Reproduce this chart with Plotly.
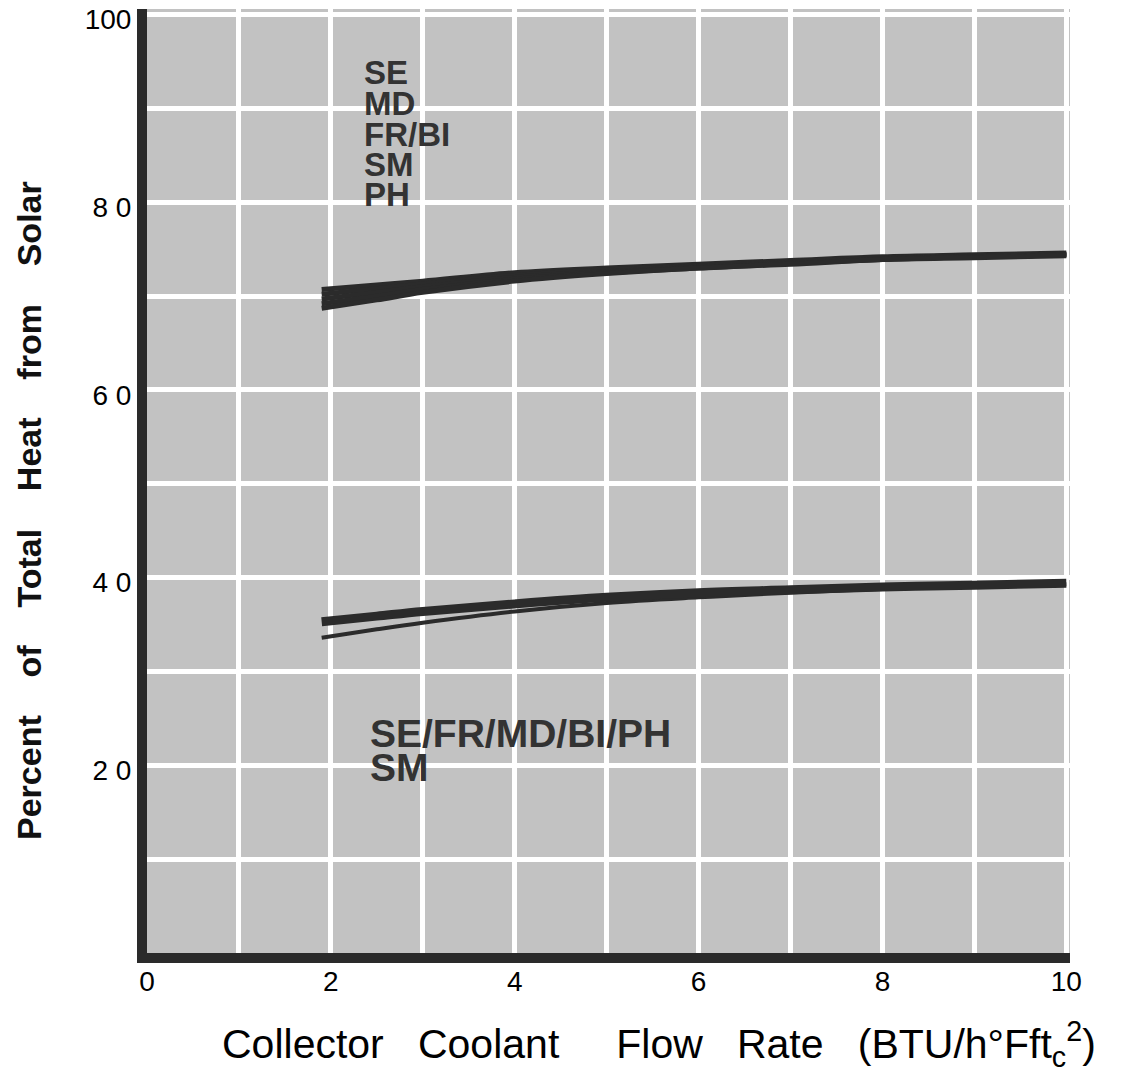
import plotly.graph_objects as go

# ---- data ----
flow_rate = [1.9, 2.5, 3, 4, 5, 6, 7, 8, 9, 10]

upper_series = {
    "SE":    [70.7, 71.2, 71.6, 72.5, 73.0, 73.4, 73.8, 74.2, 74.4, 74.6],
    "MD":    [70.2, 70.8, 71.3, 72.2, 72.8, 73.2, 73.7, 74.1, 74.3, 74.5],
    "FR/BI": [69.7, 70.4, 71.0, 72.0, 72.6, 73.1, 73.6, 74.0, 74.2, 74.4],
    "SM":    [69.2, 70.0, 70.7, 71.8, 72.5, 73.0, 73.5, 73.9, 74.2, 74.4],
    "PH":    [68.7, 69.6, 70.4, 71.6, 72.4, 73.0, 73.4, 73.9, 74.1, 74.3],
}
lower_combined = [35.3, 35.9, 36.4, 37.2, 37.9, 38.4, 38.7, 39.0, 39.2, 39.4]   # SE/FR/MD/BI/PH
lower_sm = [33.6, 34.5, 35.2, 36.4, 37.3, 37.9, 38.4, 38.8, 39.1, 39.3]         # SM

x_tickvals = [0, 2, 4, 6, 8, 10]
x_ticktext = ["0", "2", "4", "6", "8", "10"]
x_minorvals = [1, 3, 5, 7, 9]
y_tickvals = [20, 40, 60, 80, 100]
y_ticktext = ["2 0", "4 0", "6 0", "8 0", "100"]
y_minorvals = [10, 30, 50, 70, 90]

upper_labels = ["SE", "MD", "FR/BI", "SM", "PH"]
upper_label_y = [93.8, 90.5, 87.2, 84.0, 80.8]
lower_labels = ["SE/FR/MD/BI/PH", "SM"]
lower_label_y = [23.4, 19.8]

LINE = "#2b2b2b"
TEXT = "#333333"
FONT = "Liberation Sans, Arial, sans-serif"

fig = go.Figure()
for name, vals in upper_series.items():
    fig.add_trace(go.Scatter(x=flow_rate, y=vals, mode="lines", name=name,
                             line=dict(color=LINE, width=5, shape="spline"),
                             showlegend=False, hoverinfo="skip"))
fig.add_trace(go.Scatter(x=flow_rate, y=lower_sm, mode="lines", name="SM",
                         line=dict(color=LINE, width=4, shape="spline"),
                         showlegend=False))
fig.add_trace(go.Scatter(x=flow_rate, y=lower_combined, mode="lines",
                         name="SE/FR/MD/BI/PH",
                         line=dict(color=LINE, width=9, shape="spline"),
                         showlegend=False))

annotations = []
for t, yy in zip(upper_labels, upper_label_y):
    annotations.append(dict(x=2.34, y=yy, xref="x", yref="y", text=t, showarrow=False,
                            xanchor="left", yanchor="middle",
                            font=dict(family=FONT, size=33, color=TEXT, weight="bold")))
for t, yy in zip(lower_labels, lower_label_y):
    annotations.append(dict(x=2.40, y=yy, xref="x", yref="y", text=t, showarrow=False,
                            xanchor="left", yanchor="middle",
                            font=dict(family=FONT, size=39, color=TEXT, weight="bold")))

nb = "\u00a0"
ytitle = (nb * 4).join(["Percent", "of", "Total", "Heat", "from", "Solar"])
annotations.append(dict(x=(29 - 147) / 923, y=(953 - 511) / 944, xref="paper", yref="paper",
                        text=ytitle, textangle=-90, showarrow=False,
                        xanchor="center", yanchor="middle",
                        font=dict(family=FONT, size=34, color="#111111", weight="bold")))
xtitle = ("Collector" + nb * 3 + "Coolant" + nb * 5 + "Flow" + nb * 3 + "Rate" + nb * 3 +
          "(BTU/h°Fft<sub>c</sub><sup>2</sup>)")
annotations.append(dict(x=(220 - 147) / 923, y=(953 - 1044) / 944, xref="paper", yref="paper",
                        text=xtitle, showarrow=False, xanchor="left", yanchor="middle",
                        font=dict(family=FONT, size=41, color="#000000")))

grid = dict(showgrid=True, gridcolor="white", gridwidth=5, ticks="")
fig.update_layout(
    width=1125, height=1067,
    margin=dict(l=147, r=55, t=9, b=114, autoexpand=False),
    paper_bgcolor="white", plot_bgcolor="#c2c2c2",
    showlegend=False,
    annotations=annotations,
    xaxis=dict(range=[0, 10.04], tickmode="array", tickvals=x_tickvals, ticktext=x_ticktext,
               minor=dict(tickmode="array", tickvals=x_minorvals, **grid),
               zeroline=False, showline=True, linecolor="#2a2a2a", linewidth=10,
               automargin=False, ticklabelstandoff=-6, ticklabeloverflow="allow",
               tickfont=dict(family=FONT, size=28, color="#000000"), **grid),
    yaxis=dict(range=[0, 100.6], tickmode="array", tickvals=y_tickvals, ticktext=y_ticktext,
               minor=dict(tickmode="array", tickvals=y_minorvals, **grid),
               zeroline=False, showline=True, linecolor="#2a2a2a", linewidth=10,
               automargin=False, ticklabelshift=5, ticklabeloverflow="allow",
               tickfont=dict(family=FONT, size=28, color="#000000"), **grid),
)

fig.write_html("out.html", config={"displayModeBar": False},
               post_script="document.body.style.margin='0';")
